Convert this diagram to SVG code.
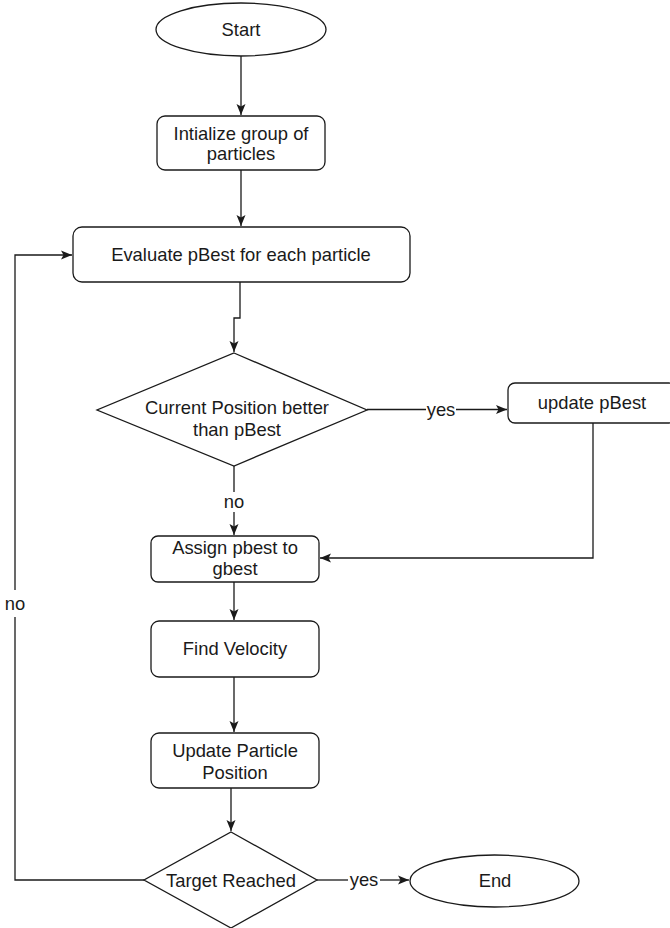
<svg xmlns="http://www.w3.org/2000/svg" width="670" height="928" viewBox="0 0 670 928">
<style>
.n{fill:#fff;stroke:#1a1a1a;stroke-width:1.3}
.t{font-family:"Liberation Sans",Arial,sans-serif;font-size:18.4px;fill:#1a1a1a;text-anchor:middle}
.c{fill:none;stroke:#1a1a1a;stroke-width:1.3}
</style>
<defs>
<marker id="a" markerUnits="userSpaceOnUse" markerWidth="12" markerHeight="10" viewBox="0 0 12 10" refX="11" refY="5" orient="auto">
<path d="M0,0.5 L11,5 L0,9.5 L2.5,5 z" fill="#1a1a1a"/>
</marker>
</defs>
<rect width="670" height="928" fill="#fff"/>
<g id="connectors">
<path class="c" d="M241,56 V115" marker-end="url(#a)"/>
<path class="c" d="M241,170 V226" marker-end="url(#a)"/>
<path class="c" d="M240,282 V318 H234 V352" marker-end="url(#a)"/>
<path class="c" d="M367,409.5 H426"/>
<path class="c" d="M456,409.5 H507" marker-end="url(#a)"/>
<text class="t" x="441" y="416">yes</text>
<path class="c" d="M234,466 V492"/>
<path class="c" d="M234,512 V535" marker-end="url(#a)"/>
<text class="t" x="234" y="508">no</text>
<path class="c" d="M593,423 V558 H320" marker-end="url(#a)"/>
<path class="c" d="M234,582 V620" marker-end="url(#a)"/>
<path class="c" d="M234,677 V732" marker-end="url(#a)"/>
<path class="c" d="M231,788 V831" marker-end="url(#a)"/>
<path class="c" d="M144,880 H15 V617"/>
<path class="c" d="M15,590 V255 H72" marker-end="url(#a)"/>
<text class="t" x="15" y="610">no</text>
<path class="c" d="M317,880 H348"/>
<path class="c" d="M380,880 H409" marker-end="url(#a)"/>
<text class="t" x="364" y="886">yes</text>
</g>
<g id="start">
<ellipse class="n" cx="241" cy="29.5" rx="85" ry="26.5"/>
<text class="t" x="241" y="36">Start</text>
</g>
<g id="init">
<rect class="n" x="157" y="116" width="168" height="54" rx="8"/>
<text class="t" x="241" y="139.5">Intialize group of</text>
<text class="t" x="241" y="160">particles</text>
</g>
<g id="evaluate">
<rect class="n" x="73" y="227" width="337" height="55" rx="9"/>
<text class="t" x="241" y="261">Evaluate pBest for each particle</text>
</g>
<g id="decision1">
<polygon class="n" points="234,353 367,410 234,466 97,410"/>
<text class="t" x="237" y="414">Current Position better</text>
<text class="t" x="237" y="436">than pBest</text>
</g>
<g id="updatepbest">
<rect class="n" x="508" y="383" width="168" height="40" rx="7"/>
<text class="t" x="592" y="408.5">update pBest</text>
</g>
<g id="assign">
<rect class="n" x="151" y="536" width="168" height="46" rx="7"/>
<text class="t" x="235" y="553.5">Assign pbest to</text>
<text class="t" x="235" y="574.5">gbest</text>
</g>
<g id="velocity">
<rect class="n" x="151" y="621" width="168" height="56" rx="8"/>
<text class="t" x="235" y="654.5">Find Velocity</text>
</g>
<g id="updatepos">
<rect class="n" x="151" y="733" width="168" height="55" rx="8"/>
<text class="t" x="235" y="756.5">Update Particle</text>
<text class="t" x="235" y="778.5">Position</text>
</g>
<g id="target">
<polygon class="n" points="231,832 317,880 231,928 144,880"/>
<text class="t" x="231" y="886.5">Target Reached</text>
</g>
<g id="end">
<ellipse class="n" cx="494.5" cy="881" rx="84.5" ry="26"/>
<text class="t" x="495" y="887">End</text>
</g>
</svg>
